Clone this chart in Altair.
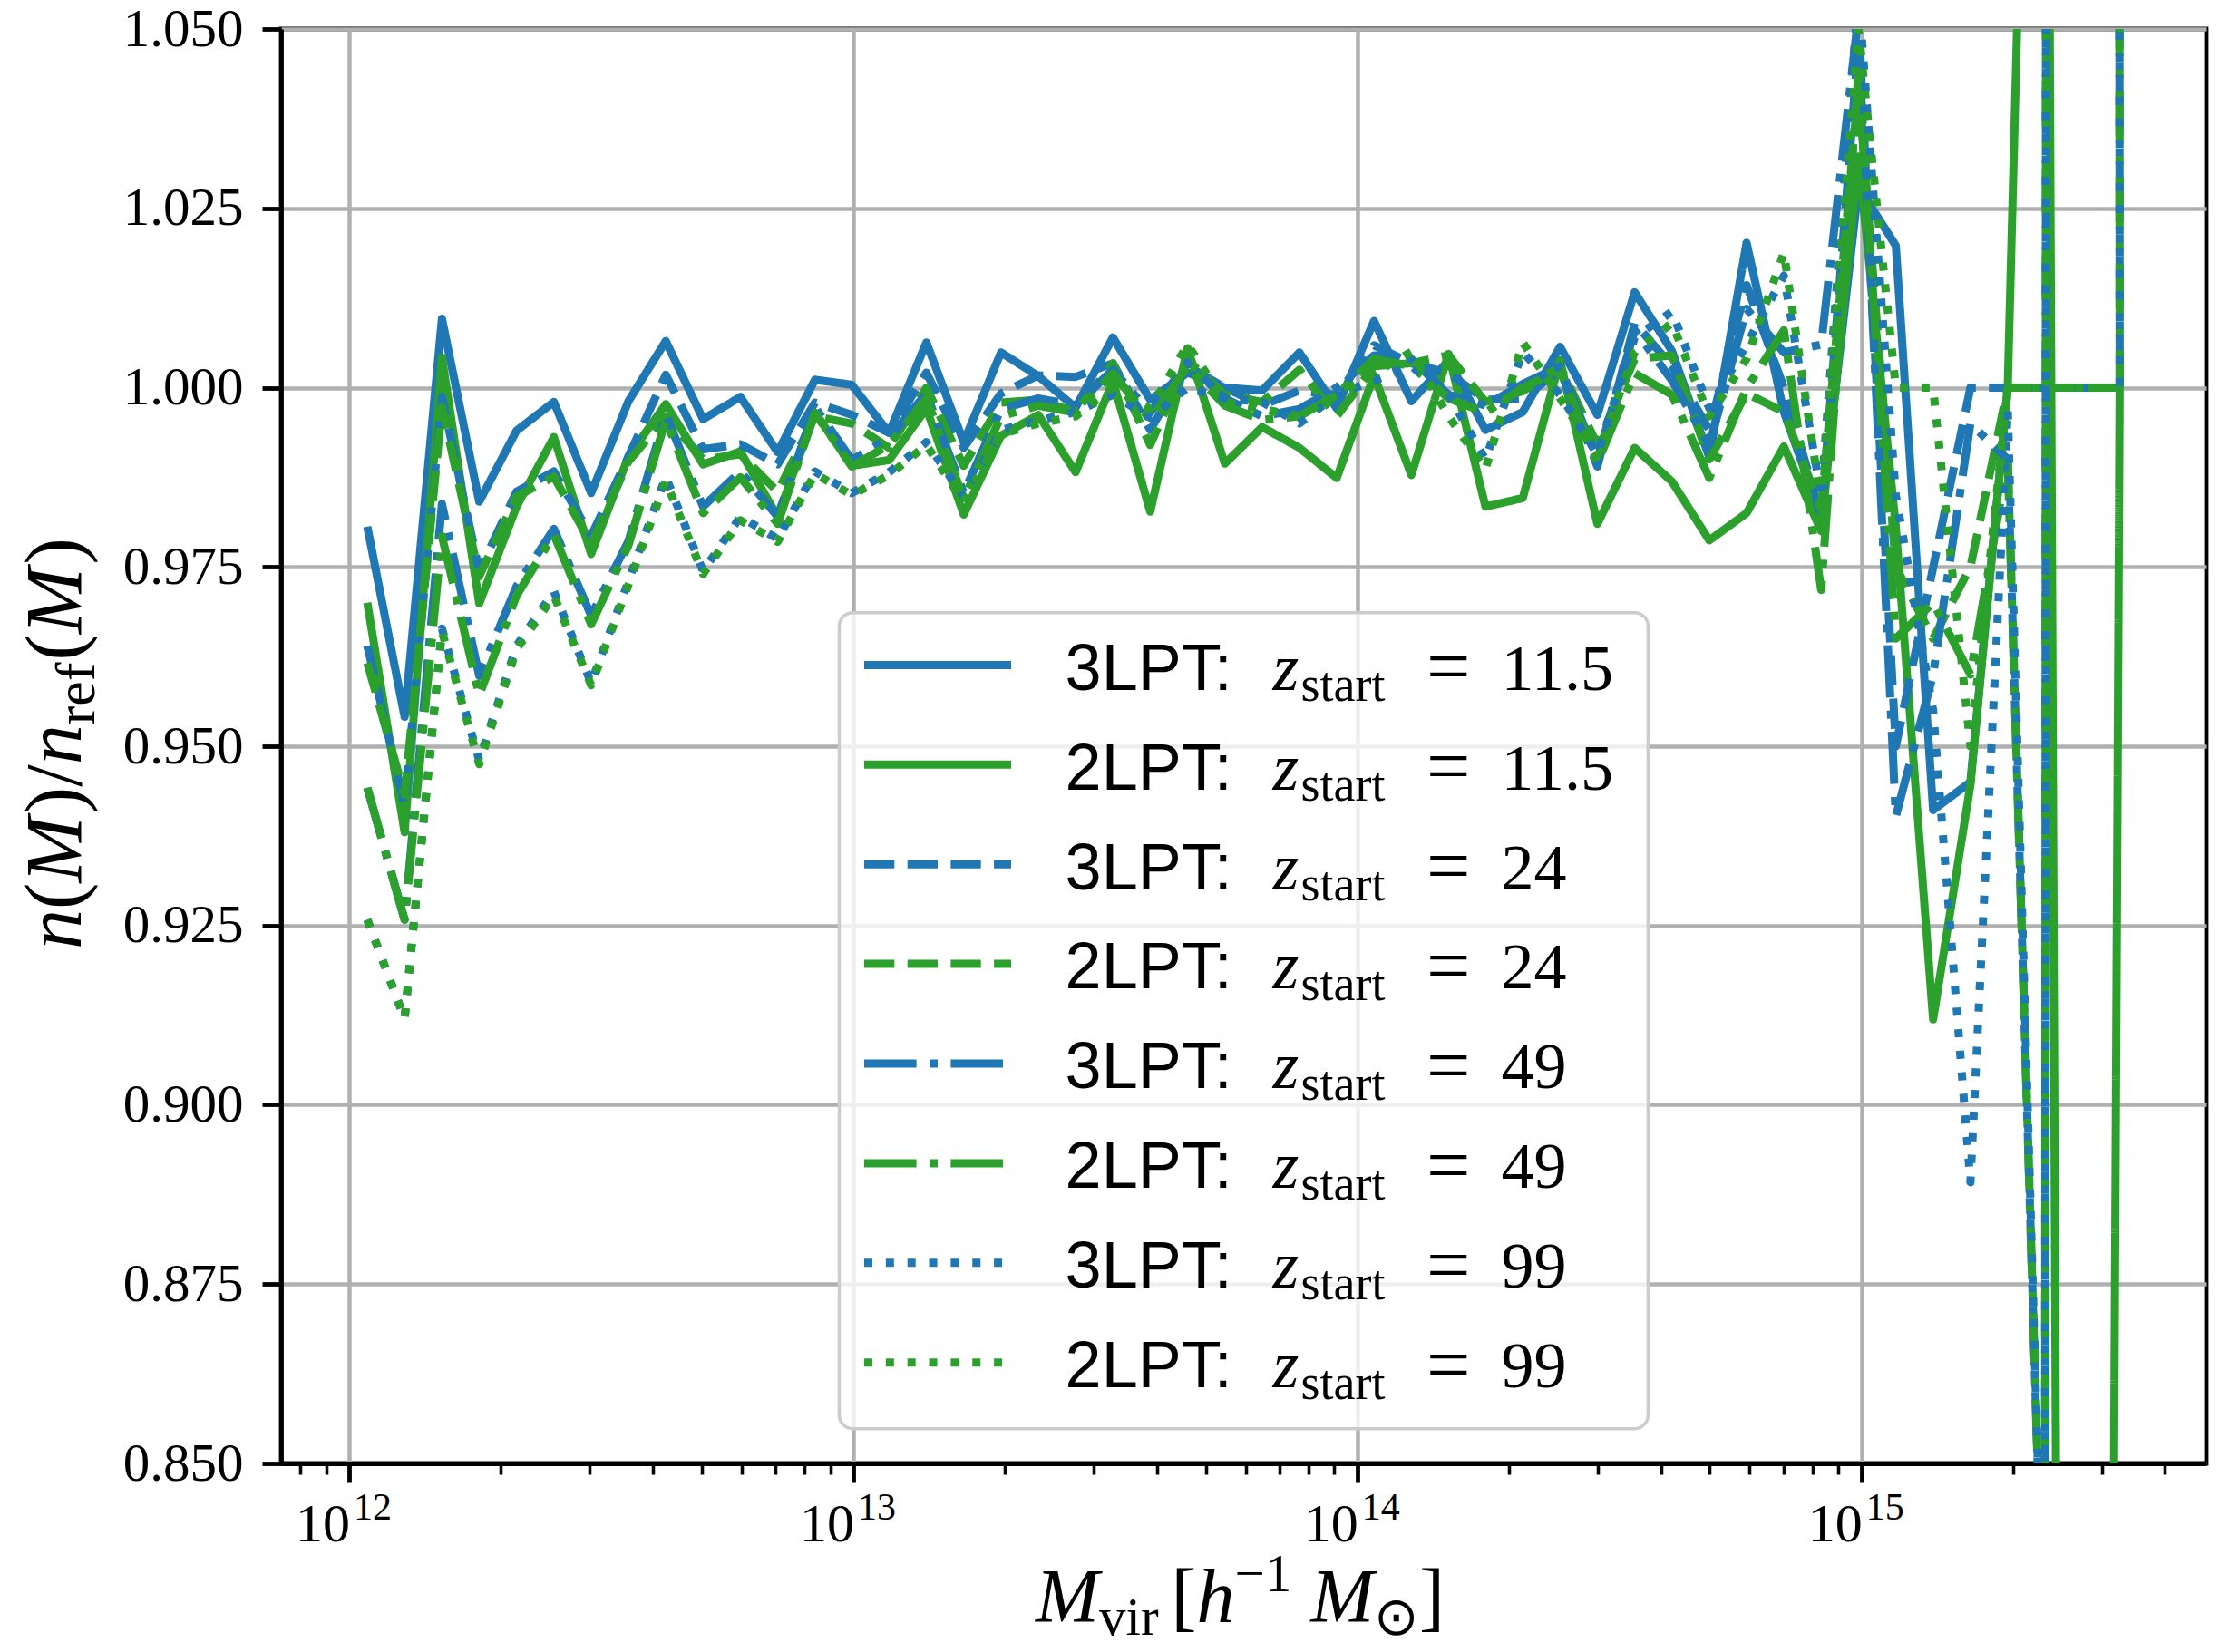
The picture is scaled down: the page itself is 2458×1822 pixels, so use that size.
import altair as alt
import pandas as pd

# ---------------- data ----------------
LOG_M = [12.036, 12.110, 12.184, 12.258, 12.332, 12.406, 12.480, 12.554, 12.628, 12.702,
         12.776, 12.850, 12.924, 12.997, 13.071, 13.145, 13.219, 13.293, 13.367, 13.441,
         13.515, 13.589, 13.663, 13.737, 13.811, 13.885, 13.959, 14.033, 14.107, 14.181,
         14.254, 14.328, 14.402, 14.476, 14.550, 14.624, 14.698, 14.772, 14.846, 14.920,
         14.994, 15.068, 15.142, 15.216, 15.290, 15.364, 15.438, 15.512]

SERIES = ["3LPT 11.5", "2LPT 11.5", "3LPT 24", "2LPT 24",
          "3LPT 49", "2LPT 49", "3LPT 99", "2LPT 99"]
CODES = ["3LPT:", "2LPT:", "3LPT:", "2LPT:", "3LPT:", "2LPT:", "3LPT:", "2LPT:"]
ZSTART = ["11.5", "11.5", "24", "24", "49", "49", "99", "99"]

R3_115 = [0.9806, 0.9541, 1.0096, 0.9841, 0.9940, 0.9980, 0.9853, 0.9981, 1.0065, 0.9956,
          0.9987, 0.9910, 1.0011, 1.0004, 0.9937, 1.0063, 0.9924, 1.0049, 1.0016, 0.9972,
          1.0070, 0.9983, 1.0021, 1.0000, 0.9996, 1.0049, 0.9971, 1.0093, 0.9981, 1.0038,
          0.9941, 0.9966, 1.0057, 0.9962, 1.0133, 1.0051, 0.9903, 1.0202, 0.9966, 0.9820,
          1.0280, 1.0198, 0.9411, 0.9450, 1.0000, 1.0000, 1.0000, 1.0000]
R2_115 = [0.9700, 0.9380, 1.0042, 0.9699, 0.9834, 0.9931, 0.9768, 0.9904, 0.9977, 0.9893,
          0.9911, 0.9820, 0.9965, 0.9891, 0.9899, 0.9971, 0.9823, 0.9933, 0.9962, 0.9882,
          1.0009, 0.9827, 1.0055, 0.9894, 0.9945, 0.9916, 0.9874, 1.0017, 0.9878, 1.0047,
          0.9834, 0.9846, 1.0038, 0.9810, 0.9916, 0.9869, 0.9787, 0.9825, 0.9918, 0.9800,
          1.0322, 0.9806, 0.9119, 0.9446, 1.0000, 1.2000, 0.0000, 1.0000]
R3_24 = [0.9640, 0.9418, 0.9987, 0.9744, 0.9855, 0.9883, 0.9793, 0.9904, 1.0018, 0.9914,
         0.9921, 0.9893, 0.9979, 0.9962, 0.9937, 1.0021, 0.9916, 0.9992, 1.0017, 1.0015,
         1.0034, 0.9941, 1.0030, 1.0000, 0.9975, 0.9996, 0.9990, 1.0059, 1.0034, 1.0020,
         0.9983, 0.9985, 1.0025, 0.9890, 1.0090, 1.0030, 0.9941, 1.0143, 1.0000, 0.9819,
         1.0480, 0.9500, 0.9749, 1.0000, 1.0000, 1.0000, 1.0000, 1.0000]
R2_24 = [0.9616, 0.9432, 0.9973, 0.9737, 0.9848, 0.9876, 0.9782, 0.9897, 0.9959, 0.9900,
         0.9907, 0.9855, 0.9960, 0.9950, 0.9916, 1.0000, 0.9891, 0.9979, 0.9983, 0.9966,
         1.0034, 0.9920, 1.0038, 0.9990, 0.9980, 1.0025, 0.9960, 1.0030, 1.0034, 1.0045,
         0.9980, 0.9995, 1.0030, 0.9920, 1.0040, 1.0045, 0.9900, 0.9992, 0.9966, 0.9830,
         1.0420, 0.9750, 0.9650, 0.9750, 1.0000, 1.0000, 1.0000, 1.0000]
R3_49 = [0.9442, 0.9258, 0.9838, 0.9598, 0.9723, 0.9803, 0.9682, 0.9786, 0.9963, 0.9834,
         0.9883, 0.9820, 0.9973, 0.9899, 0.9930, 0.9992, 0.9853, 0.9970, 0.9985, 0.9975,
         1.0025, 0.9965, 1.0035, 0.9985, 0.9960, 0.9970, 1.0000, 1.0045, 1.0040, 0.9990,
         0.9975, 1.0005, 1.0030, 0.9900, 1.0080, 1.0010, 0.9920, 1.0110, 1.0049, 1.0060,
         1.0520, 0.9402, 0.9600, 0.9950, 0.9900, 0.8150, 10.000, 1.0000]
R2_49 = [0.9442, 0.9258, 0.9793, 0.9571, 0.9710, 0.9795, 0.9670, 0.9780, 0.9955, 0.9825,
         0.9875, 0.9810, 0.9965, 0.9890, 0.9920, 0.9985, 0.9845, 0.9960, 0.9975, 0.9965,
         1.0020, 0.9955, 1.0030, 0.9975, 0.9955, 0.9960, 0.9990, 1.0040, 1.0030, 0.9985,
         0.9965, 1.0000, 1.0025, 0.9895, 1.0020, 0.9990, 0.9874, 0.9999, 1.0080, 0.9718,
         1.0440, 0.9650, 0.9700, 0.9600, 0.9900, 0.8150, 10.000, 1.0000]
R3_99 = [0.9258, 0.9120, 0.9664, 0.9480, 0.9640, 0.9716, 0.9588, 0.9730, 0.9876, 0.9744,
         0.9820, 0.9789, 0.9883, 0.9853, 0.9882, 0.9924, 0.9848, 0.9941, 0.9954, 0.9966,
         0.9990, 0.9958, 1.0000, 0.9985, 0.9980, 0.9950, 0.9990, 1.0010, 1.0030, 0.9990,
         0.9900, 1.0050, 0.9990, 0.9907, 1.0070, 1.0106, 0.9971, 1.0060, 1.0156, 0.9850,
         1.0550, 0.9850, 0.9550, 0.8892, 0.9970, 0.8150, 10.000, 1.0000]
R2_99 = [0.9258, 0.9120, 0.9660, 0.9475, 0.9635, 0.9710, 0.9585, 0.9725, 0.9870, 0.9740,
         0.9815, 0.9785, 0.9880, 0.9850, 0.9878, 0.9920, 0.9840, 0.9935, 0.9950, 0.9960,
         1.0000, 0.9970, 1.0060, 0.9980, 0.9970, 0.9960, 0.9990, 1.0020, 1.0050, 0.9960,
         0.9886, 1.0063, 0.9985, 0.9905, 1.0050, 1.0090, 0.9960, 1.0040, 1.0188, 0.9840,
         1.0500, 1.0000, 1.0000, 0.9500, 1.0000, 1.0000, 1.0000, 1.0000]

VALUES = [R3_115, R2_115, R3_24, R2_24, R3_49, R2_49, R3_99, R2_99]

Y_TICKS = [0.850, 0.875, 0.900, 0.925, 0.950, 0.975, 1.000, 1.025, 1.050]
DECADES = [1e12, 1e13, 1e14, 1e15]
DECADE_EXP = ["12", "13", "14", "15"]

# ---------------- styling ----------------
BLUE, GREEN = "#1f77b4", "#2ca02c"
COLORS = [BLUE, GREEN] * 4
LW = 9
DASHES = [[1, 0], [1, 0],
          [33.3, 14.4], [33.3, 14.4],
          [57.6, 14.4, 9, 14.4], [57.6, 14.4, 9, 14.4],
          [9, 14.85], [9, 14.85]]
SERIF = "Liberation Serif"
SANS = "Liberation Sans"

W, H = 2123, 1582
LOG_LO, LOG_HI = 11.865, 15.684
XS = alt.Scale(type="log", domain=[10 ** LOG_LO, 10 ** LOG_HI], nice=False)
YS = alt.Scale(domain=[0.85, 1.05], nice=False, zero=False)
CS = alt.Scale(domain=SERIES, range=COLORS)
DS = alt.Scale(domain=SERIES, range=DASHES)


def mx(px):
    """pixel offset from plot left -> mass (layout helper for legend / titles)"""
    return 10 ** (LOG_LO + px / W * (LOG_HI - LOG_LO))


def vy(py):
    """pixel offset from plot top -> ratio value (layout helper)"""
    return 1.05 - py / H * 0.2


x_ticks = [8e11, 9e11] + [float(m * 10 ** e) for e in (12, 13, 14) for m in range(1, 10)] \
    + [1e15, 2e15, 3e15, 4e15]
MAJOR = "indexof([1e12, 1e13, 1e14, 1e15], datum.value) >= 0"

X_AXIS = alt.Axis(values=x_ticks, labels=False, title=None,
                  grid=True, gridColor="#b0b0b0", gridWidth=4.5,
                  gridOpacity={"condition": {"test": MAJOR, "value": 1}, "value": 0},
                  tickSize={"condition": {"test": MAJOR, "value": 21}, "value": 12},
                  tickWidth={"condition": {"test": MAJOR, "value": 4.8}, "value": 3.6},
                  tickColor="black", domainColor="black", domainWidth=4.8)
Y_AXIS = alt.Axis(values=Y_TICKS, format=".3f", title=None,
                  grid=True, gridColor="#b0b0b0", gridWidth=4.5,
                  tickSize=21, tickWidth=4.8, tickColor="black",
                  domainColor="black", domainWidth=4.8,
                  labelFont=SERIF, labelFontSize=59, labelColor="black",
                  labelPadding=21, labelOverlap=False, labelFlush=False)


def X(field):
    return alt.X(field, scale=XS, axis=X_AXIS)


def Y(field):
    return alt.Y(field, scale=YS, axis=Y_AXIS)


layers = []
masses = [10 ** v for v in LOG_M]
for i, name in enumerate(SERIES):
    df = pd.DataFrame({"M": masses, "ratio": VALUES[i], "series": name,
                       "idx": list(range(len(LOG_M)))})
    layers.append(
        alt.Chart(df).mark_line(clip=True, strokeWidth=LW, strokeJoin="round").encode(
            x=X("M:Q"),
            y=Y("ratio:Q"),
            color=alt.Color("series:N", scale=CS, legend=None),
            strokeDash=alt.StrokeDash("series:N", scale=DS, legend=None),
            order=alt.Order("idx:Q"),
        )
    )

# ---------------- x tick labels: 10 with superscript exponent ----------------
xlab = pd.DataFrame({"M": DECADES, "base": "10", "exp": DECADE_EXP,
                     "by": vy(1668), "ey": vy(1644)})
layers.append(
    alt.Chart(xlab).mark_text(font=SERIF, fontSize=60, align="right", dx=1,
                              baseline="alphabetic", color="black").encode(
        x=X("M:Q"), y=Y("by:Q"), text="base:N"))
layers.append(
    alt.Chart(xlab).mark_text(font=SERIF, fontSize=42, align="left", dx=5,
                              baseline="alphabetic", color="black").encode(
        x=X("M:Q"), y=Y("ey:Q"), text="exp:N"))

# ---------------- legend (drawn inside the plot) ----------------
ROW0, ROWSTEP = 701.4, 109.9
rows = [ROW0 + ROWSTEP * i for i in range(8)]
leg = pd.DataFrame({
    "series": SERIES, "code": CODES, "zval": ZSTART,
    "x1": mx(643), "x2": mx(805),
    "ly": [vy(r) for r in rows],
    "ty": [vy(r + 27.3) for r in rows],
    "sy": [vy(r + 40) for r in rows],
    "ey": [vy(r + 31) for r in rows],
    "xc": mx(864.6), "xz": mx(1093.6), "xs": mx(1124.6), "xe": mx(1263), "xv": mx(1345.6),
    "zt": "z", "st": "start", "et": "=",
})

box = pd.DataFrame({"bx1": [mx(615.5)], "bx2": [mx(1507.4)],
                    "by1": [vy(643.7)], "by2": [vy(1543.7)]})
layers.append(
    alt.Chart(box).mark_rect(cornerRadius=15, fill="white", fillOpacity=0.8,
                             stroke="#cccccc", strokeWidth=3.5).encode(
        x=X("bx1:Q"), x2="bx2:Q", y=Y("by1:Q"), y2="by2:Q")
)
layers.append(
    alt.Chart(leg).mark_rule(strokeWidth=LW).encode(
        x=X("x1:Q"), x2="x2:Q", y=Y("ly:Q"),
        color=alt.Color("series:N", scale=CS, legend=None),
        strokeDash=alt.StrokeDash("series:N", scale=DS, legend=None))
)


def leg_text(xf, yf, tf, font, size, style="normal"):
    return alt.Chart(leg).mark_text(font=font, fontSize=size, fontStyle=style,
                                    align="left", baseline="alphabetic",
                                    color="black").encode(
        x=X(f"{xf}:Q"), y=Y(f"{yf}:Q"), text=f"{tf}:N")


layers += [
    leg_text("xc", "ty", "code", SANS, 72),
    leg_text("xz", "ty", "zt", SERIF, 74, "italic"),
    leg_text("xs", "sy", "st", SERIF, 54),
    leg_text("xe", "ey", "et", SERIF, 86),
    leg_text("xv", "ty", "zval", SERIF, 72),
]


# ---------------- axis titles built from pieces ----------------
def piece(text, xr, yr, size, style="normal", angle=0):
    df = pd.DataFrame({"px": [mx(xr)], "py": [vy(yr)], "t": [text]})
    return alt.Chart(df).mark_text(font=SERIF, fontSize=size, fontStyle=style,
                                   angle=angle, align="left", baseline="alphabetic",
                                   color="black").encode(
        x=X("px:Q"), y=Y("py:Q"), text="t:N")


F, FS = 84, 59
# x title:  M_vir [h^-1 M_sun]
X0, XB = 832, 1757
layers += [
    piece("M", X0, XB, F, "italic"),
    piece("vir", X0 + 70, XB + 14, FS),
    piece("[", X0 + 149.5, XB, F),
    piece("h", X0 + 177.5, XB, F, "italic"),
    piece("−1", X0 + 219.5, XB - 34, FS),
    piece("M", X0 + 303.3, XB, F, "italic"),
    piece("⊙", X0 + 373.3, XB + 14, FS),
    piece("]", X0 + 422.9, XB, F),
]
# y title:  n(M)/n_ref(M), rotated (text runs upward)
F2, FS2 = 88, 62
YX, Y0 = -221, 1015
u = F2 / 1000.0
parts = [  # (text, style, advance in em/1000, is_subscript)
    ("n", "italic", 500, False),
    ("(", "normal", 333, False),
    ("M", "italic", 870, False),
    (")/", "normal", 611, False),
    ("n", "italic", 500, False),
    ("ref", "normal", None, True),
    ("(", "normal", 333, False),
    ("M", "italic", 870, False),
    (")", "normal", 333, False),
]
off = 0.0
for text, style, adv, sub in parts:
    if sub:
        layers.append(piece(text, YX + 15, Y0 - off, FS2, style, 270))
        off += 1.111 * FS2 + 2
    else:
        layers.append(piece(text, YX, Y0 - off, F2, style, 270))
        off += adv * u

chart = alt.layer(*layers).properties(
    width=W, height=H,
    autosize=alt.AutoSizeParams(type="none"),
    padding={"left": 310, "top": 32, "right": 25, "bottom": 208},
).configure_view(stroke="black", strokeWidth=4.8)

chart.save("out.html", embed_options={"renderer": "svg", "actions": False})
